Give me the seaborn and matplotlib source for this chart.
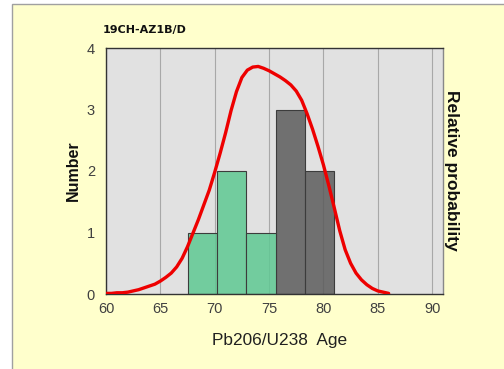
import matplotlib
matplotlib.use("Agg")
import matplotlib.pyplot as plt
from matplotlib.patches import Rectangle
from matplotlib.ticker import MultipleLocator
import pandas as pd
import seaborn as sns

# Histogram bins (Ma) and counts per bin
bin_edges = [67.5, 70.2, 72.9, 75.6, 78.3, 81.0]
bin_counts = [1, 2, 1, 3, 2]
bin_group = ["young", "young", "young", "old", "old"]

# Relative probability curve, scaled to the count axis
prob_age = [60.0, 60.5, 61.0, 61.5, 62.0, 62.5, 63.0, 63.5, 64.0, 64.5,
            65.0, 65.5, 66.0, 66.5, 67.0, 67.5, 68.0, 68.5, 69.0, 69.5,
            70.0, 70.5, 71.0, 71.5, 72.0, 72.5, 73.0, 73.5, 74.0, 74.5,
            75.0, 75.5, 76.0, 76.5, 77.0, 77.5, 78.0, 78.5, 79.0, 79.5,
            80.0, 80.5, 81.0, 81.5, 82.0, 82.5, 83.0, 83.5, 84.0, 84.5,
            85.0, 85.5, 86.0]
prob_value = [0.01, 0.01, 0.02, 0.02, 0.03, 0.05, 0.07, 0.10, 0.13, 0.16,
              0.21, 0.27, 0.34, 0.44, 0.58, 0.77, 0.99, 1.21, 1.45, 1.69,
              1.98, 2.29, 2.62, 2.98, 3.29, 3.52, 3.64, 3.69, 3.70, 3.67,
              3.63, 3.58, 3.53, 3.47, 3.40, 3.30, 3.15, 2.93, 2.68, 2.40,
              2.10, 1.76, 1.40, 1.03, 0.72, 0.50, 0.34, 0.23, 0.15, 0.09,
              0.05, 0.03, 0.01]

title = "19CH-AZ1B/D"
x_label = "Pb206/U238  Age"
y_label = "Number"
y2_label = "Relative probability"
x_ticks = [60, 65, 70, 75, 80, 85, 90]
y_ticks = [0, 1, 2, 3, 4]

centers = [(a + b) / 2 for a, b in zip(bin_edges[:-1], bin_edges[1:])]
bars = pd.DataFrame({"age": centers, "count": bin_counts, "group": bin_group})
curve = pd.DataFrame({"age": prob_age, "prob": prob_value})

sns.set_style("white")
plt.rcParams["font.family"] = ["Liberation Sans", "DejaVu Sans"]

fig = plt.figure(figsize=(5.04, 3.69), dpi=100)
fig.patch.set_facecolor("white")
# pale yellow panel behind the chart
fig.patches.append(Rectangle((12 / 504, -0.05), 1.0, 1 - 4 / 369 + 0.05,
                             transform=fig.transFigure, facecolor="#FFFFCC",
                             edgecolor="#A0A0A0", linewidth=1.0, zorder=-10))

ax = fig.add_axes([106 / 504, 1 - 294 / 369, 337 / 504, 246 / 369])
ax.set_zorder(1)
ax.set_facecolor("#E1E1E1")

palette = {"young": "#5FC993", "old": "#5C5C5C"}
sns.histplot(data=bars, x="age", weights="count", bins=bin_edges, hue="group",
             palette=palette, alpha=0.85, edgecolor="#3C3C3C", linewidth=0.8,
             legend=False, ax=ax, zorder=2)
sns.lineplot(data=curve, x="age", y="prob", color="#EE0000", linewidth=2.4,
             ax=ax, zorder=3, sort=False, solid_joinstyle="round",
             solid_capstyle="round")

ax.set_xlim(60, 91)
ax.set_ylim(0, 4)
ax.set_xticks(x_ticks)
ax.set_yticks(y_ticks)
ax.xaxis.set_minor_locator(MultipleLocator(1))
ax.grid(axis="x", color="#A8A8A8", linewidth=0.8, zorder=0)
ax.set_axisbelow(True)
ax.tick_params(axis="x", which="major", direction="inout", length=5,
               color="#555555", labelsize=10.5, labelcolor="#404040", pad=3)
ax.tick_params(axis="x", which="minor", direction="in", length=3,
               color="#777777")
ax.tick_params(axis="y", which="major", direction="out", length=4,
               color="#999999", labelsize=10.5, labelcolor="#404040", pad=4)
for side in ["left", "bottom", "top"]:
    ax.spines[side].set_color("#333333")
    ax.spines[side].set_linewidth(1.0)
ax.spines["right"].set_color("#888888")
ax.spines["right"].set_linewidth(1.0)

ax.set_xlabel(x_label, fontsize=12.4, color="#202020")
ax.xaxis.set_label_coords((280 - 106) / 337, -(340 - 294) / 246)
ax.xaxis.label.set_va("center")
ax.set_ylabel(y_label, fontsize=11.5, fontweight="bold", color="#101010")
ax.yaxis.set_label_coords(-(106 - 73) / 337, 0.5)
ax.yaxis.label.set_va("center")
fig.text(452 / 504, 1 - 170 / 369, y2_label, rotation=-90, ha="center",
         va="center", fontsize=12.5, fontweight="bold", color="#101010")
fig.text(103 / 504, 1 - 30 / 369, title, ha="left", va="center",
         fontsize=8, fontweight="bold", color="#101010",
         family=["DejaVu Sans"])

fig.savefig("out.png", dpi=100)
